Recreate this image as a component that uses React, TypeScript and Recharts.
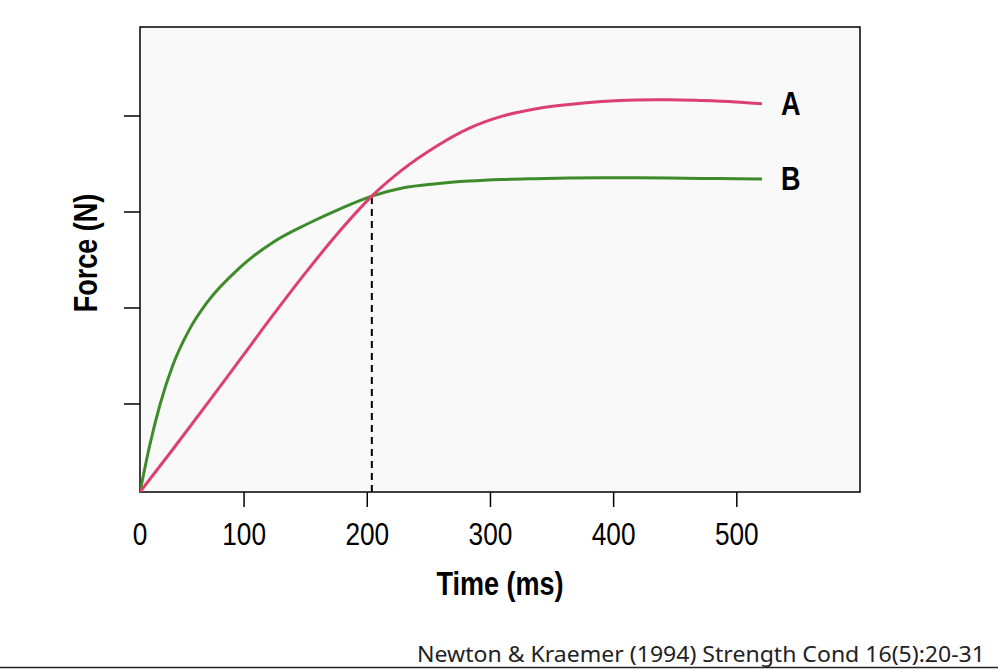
import React from 'react';
import { LineChart, Line, XAxis, YAxis, ReferenceArea, ReferenceLine, ReferenceDot } from 'recharts';

// Time (ms) on the axis scale, Force (arbitrary N units, tick spacing 100)
const timeA = [15.5, 42.2, 69.8, 96.5, 123.3, 150.8, 177.5, 203.7, 228.6, 256.2, 282.9, 309.6, 337.2, 363.9, 390.6, 418.2, 445, 471.7, 499.3, 520.4];
const forceA = [8.3, 52.8, 99.8, 145.9, 192.2, 238.1, 279.9, 316.5, 344.1, 368.5, 387.3, 399.8, 407.6, 412.0, 415.1, 416.7, 417.0, 416.1, 414.6, 412.8];

const timeB = [15.5, 23.6, 31.8, 42.2, 56.0, 69.8, 96.5, 123.3, 150.8, 177.5, 203.7, 228.6, 256.2, 282.9, 309.6, 337.2, 363.9, 390.6, 418.2, 445, 471.7, 499.3, 520.4];
const forceB = [8.3, 58.0, 99.5, 140.5, 178.5, 205.5, 242.0, 268.3, 287.2, 303.0, 316.5, 325.0, 329.5, 332.2, 333.8, 334.7, 335.4, 335.7, 335.7, 335.4, 335.0, 334.7, 334.4];

const xTicks = [15.5, 100, 200, 300, 400, 500];
const xTickLabels = ['0', '100', '200', '300', '400', '500'];
const yTicks = [100, 200, 300, 400];
const xDomain = [15.5, 600];
const yDomain = [8.3, 492.7];
const crossTime = 203.7;
const crossForce = 316.5;
const seriesNames = ['A', 'B'];
const sourceText = 'Newton & Kraemer (1994) Strength Cond 16(5):20-31';

const dataA = timeA.map((t, i) => ({ t, f: forceA[i] }));
const dataB = timeB.map((t, i) => ({ t, f: forceB[i] }));

const PINK = '#dc3f70';
const GREEN = '#3d8b2b';
const FONT = "'Liberation Sans', Arial, sans-serif";
const SQUEEZE = 0.82;

const NarrowText = (props: any) => {
  const { x, y, rotate = 0, children, ...rest } = props;
  return (
    <text
      x={0}
      y={0}
      transform={`translate(${x} ${y}) rotate(${rotate}) scale(${SQUEEZE} 1)`}
      fontFamily={FONT}
      fill="#000"
      {...rest}
    >
      {children}
    </text>
  );
};

const XTick = (props: any) => {
  const { x, y, payload, index } = props;
  const label = xTickLabels[xTicks.indexOf(payload.value)] ?? String(payload.value);
  return (
    <g>
      {index !== 0 && <line x1={x} x2={x} y1={y - 30} y2={y - 15} stroke="#000" strokeWidth={1.5} />}
      <NarrowText x={x} y={y} dy="0.71em" textAnchor="middle" fontSize={32}>
        {label}
      </NarrowText>
    </g>
  );
};

const seriesLabel = (name: string) => (p: any) => {
  const vb = p.viewBox || {};
  return (
    <NarrowText x={vb.x + 19} y={vb.y} textAnchor="start" dominantBaseline="central" fontWeight="bold" fontSize={33}>
      {name}
    </NarrowText>
  );
};

export default function App() {
  const lastA = dataA[dataA.length - 1];
  const lastB = dataB[dataB.length - 1];
  return (
    <div style={{ position: 'absolute', left: 0, top: 0, width: 998, height: 670, background: '#fff' }}>
      <LineChart width={998} height={670} data={dataA} margin={{ top: 27, right: 138, bottom: 118, left: 60 }}>
        <XAxis
          type="number"
          dataKey="t"
          domain={xDomain}
          ticks={xTicks}
          allowDataOverflow
          axisLine={false}
          tickLine={false}
          tickSize={15}
          tickMargin={15}
          height={60}
          tick={<XTick />}
          interval={0}
          label={{
            content: (p: any) => {
              const vb = p.viewBox;
              const cx = vb.x + vb.width / 2;
              return (
                <NarrowText x={cx} y={584} textAnchor="middle" dominantBaseline="central" fontWeight="bold" fontSize={33}>
                  Time (ms)
                </NarrowText>
              );
            },
          }}
        />
        <YAxis
          type="number"
          domain={yDomain}
          ticks={yTicks}
          allowDataOverflow
          axisLine={false}
          tickFormatter={() => ''}
          tickLine={{ stroke: '#000', strokeWidth: 1.5 }}
          tickSize={16}
          width={80}
          label={{
            content: (p: any) => {
              const vb = p.viewBox;
              const cx = vb.x + 26;
              const cy = 253;
              return (
                <NarrowText x={cx} y={cy} rotate={-90} textAnchor="middle" dominantBaseline="central" fontWeight="bold" fontSize={33}>
                  Force (N)
                </NarrowText>
              );
            },
          }}
        />
        <ReferenceArea x1={xDomain[0]} x2={xDomain[1]} y1={yDomain[0]} y2={yDomain[1]} fill="#f9f9f9" fillOpacity={1} stroke="#000" strokeWidth={1.5} />
        <ReferenceLine
          segment={[{ x: crossTime, y: yDomain[0] }, { x: crossTime, y: crossForce }]}
          stroke="#000"
          strokeWidth={2}
          strokeDasharray="7 5"
        />
        <Line data={dataB} dataKey="f" type="monotone" stroke={GREEN} strokeWidth={3} dot={false} isAnimationActive={false} />
        <Line data={dataA} dataKey="f" type="monotone" stroke={PINK} strokeWidth={3} dot={false} isAnimationActive={false} />
        <ReferenceDot x={lastA.t} y={lastA.f} r={0} fill="none" stroke="none" label={{ content: seriesLabel(seriesNames[0]) }} />
        <ReferenceDot x={lastB.t} y={lastB.f} r={0} fill="none" stroke="none" label={{ content: seriesLabel(seriesNames[1]) }} />
      </LineChart>
      <svg width={998} height={670} style={{ position: 'absolute', left: 0, top: 0, pointerEvents: 'none' }}>
        <text x={985} y={662} textAnchor="end" fontFamily="'Noto Sans', sans-serif" fontSize={21} fill="#222" textLength={568} lengthAdjust="spacingAndGlyphs">
          {sourceText}
        </text>
        <line x1={0} x2={998} y1={667.5} y2={667.5} stroke="#222" strokeWidth={1.5} />
      </svg>
    </div>
  );
}
